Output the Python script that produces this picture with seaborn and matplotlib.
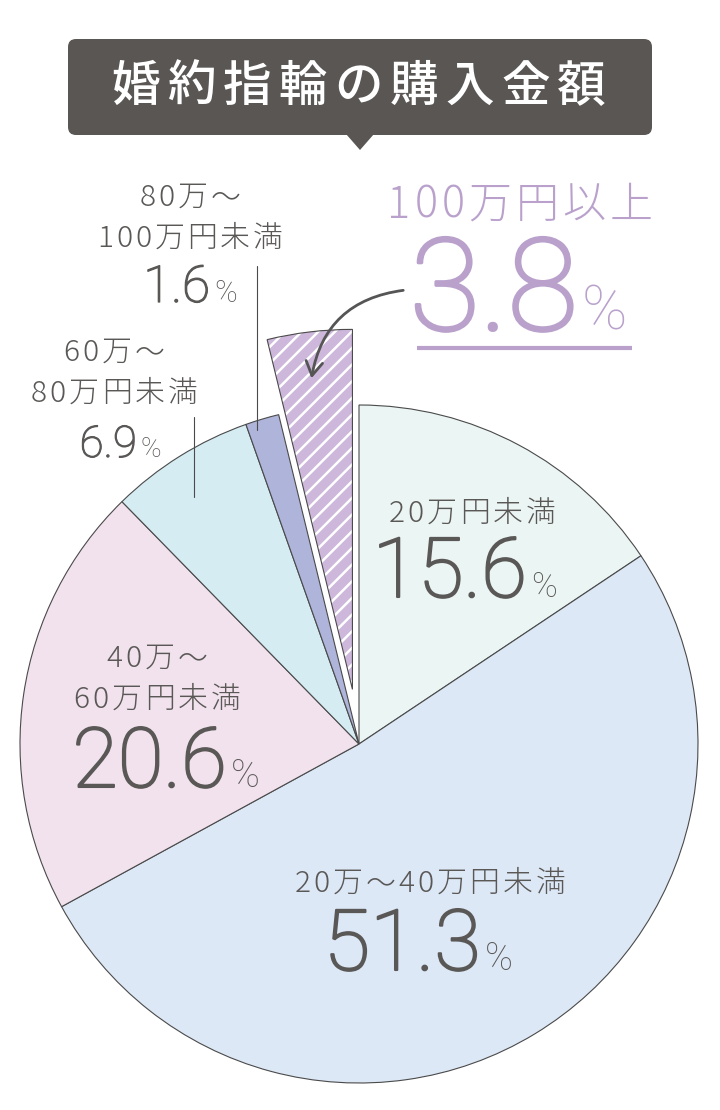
import numpy as np
import pandas as pd
import matplotlib
matplotlib.use("Agg")
import matplotlib.pyplot as plt
import matplotlib.patheffects as pe
import seaborn as sns
from matplotlib.patches import Wedge, FancyBboxPatch, Polygon, FancyArrowPatch

# data
categories = ['20万円未満', '20万〜40万円未満', '40万〜60万円未満',
              '60万〜80万円未満', '80万〜100万円未満', '100万円以上']
shares = [15.6, 51.3, 20.6, 6.9, 1.6, 3.8]
title = '婚約指輪の購入金額'

# label line breaks (as drawn)
label_lines = [['20万円未満'], ['20万〜40万円未満'], ['40万〜', '60万円未満'],
               ['60万〜', '80万円未満'], ['80万〜', '100万円未満'], ['100万円以上']]

sns.set_theme(style="white")
plt.rcParams['font.family'] = ['Noto Sans CJK JP', 'DejaVu Sans']
plt.rcParams['hatch.linewidth'] = 1.8

W, H = 720, 1110
TXT = '#5a5856'
PURPLE = '#b9a1cc'
EDGE = '#4a4a4a'
colors = ['#ebf5f4', '#dde8f6', '#f2e2ed', '#d5ecf3', '#aeb4da', '#cdb7db']

fig = plt.figure(figsize=(W / 100, H / 100), dpi=100)
ax = fig.add_axes([0, 0, 1, 1])

cx, cy, R = 359, H - 744, 339
wedges, _ = ax.pie(shares, colors=colors, startangle=90, counterclock=False,
                   radius=R, center=(cx, cy),
                   wedgeprops=dict(edgecolor=EDGE, linewidth=0.8))

# pulled-out hatched slice
hw = wedges[-1]
mid = np.deg2rad((hw.theta1 + hw.theta2) / 2)
off = 55
hw.set_center((cx + off * np.cos(mid), cy + off * np.sin(mid)))
hw.set_radius(360)
hw.set_facecolor(colors[-1])
hw.set_hatch('//')
hw.set_edgecolor('white')
hw.set_linewidth(0)
ax.add_patch(Wedge(hw.center, hw.r, hw.theta1, hw.theta2, fill=False,
                   edgecolor=EDGE, linewidth=0.8))

ax.set_xlim(0, W)
ax.set_ylim(0, H)
ax.set_aspect('equal')
ax.axis('off')

renderer = fig.canvas.get_renderer()


def tracked(x, y, s, size, color, track=3, ha='center', family=None, weight='light'):
    fam = family or ['Noto Sans CJK JP', 'DejaVu Sans']
    widths = []
    for ch in s:
        t = ax.text(0, 0, ch, fontsize=size, family=fam, weight=weight)
        widths.append(t.get_window_extent(renderer).width)
        t.remove()
    total = sum(widths) + track * (len(s) - 1)
    x0 = x - total / 2 if ha == 'center' else x
    for ch, w in zip(s, widths):
        ax.text(x0, H - y, ch, fontsize=size, family=fam, weight=weight,
                color=color, ha='left', va='baseline')
        x0 += w + track


num_font = ['Roboto', 'DejaVu Sans']


def pct(xr, y, value, size, psize, color=TXT):
    thick = [pe.withStroke(linewidth=size / 40, foreground=color)]
    ax.text(xr, H - y, value, fontsize=size, family=num_font, weight='light',
            color=color, ha='right', va='baseline', path_effects=thick)
    ax.text(xr + 4, H - y, '%', fontsize=psize, family=num_font, weight='light',
            color=color, ha='left', va='baseline')


# title box
ax.add_patch(FancyBboxPatch((68, H - 135), 584, 96,
                            boxstyle='round,pad=0,rounding_size=8',
                            facecolor='#595654', edgecolor='none'))
ax.add_patch(Polygon([(346, H - 134), (374, H - 134), (360, H - 150)],
                     closed=True, facecolor='#595654', edgecolor='none'))
for i, ch in enumerate(title):
    ax.text(135.5 + i * 55.75, H - 87, ch, fontsize=35, color='white',
            ha='center', va='center', weight='medium')

# labels: (center x, baselines of lines), value right edge, value baseline, sizes
label_pos = [(472, [522]), (430, [892]), (157, [667, 708]),
             (114, [361, 402]), (190, [206, 247]), (520, [218])]
value_pos = [(527, 597, 57, 25), (481, 970, 58, 27), (227, 787, 57, 28),
             (137, 457, 30, 20), (210, 302, 35, 22), (578, 330, 88, 44)]

for i, cat in enumerate(categories):
    color = PURPLE if i == len(categories) - 1 else TXT
    lx, lys = label_pos[i]
    size = 31 if i == len(categories) - 1 else 21.5
    for line, ly in zip(label_lines[i], lys):
        tracked(lx, ly, line, size, color, track=4 if size > 30 else 3)
    xr, yb, s1, s2 = value_pos[i]
    pct(xr, yb, f'{shares[i]:.1f}', s1 * 1.05, s2, color=color)

# underline for the highlighted value
ax.plot([417, 632], [H - 348, H - 348], color=PURPLE, lw=3, solid_capstyle='butt')

# leader lines
ax.plot([257, 257], [H - 266, H - 430], color=EDGE, lw=0.8)
ax.plot([194, 194], [H - 417, H - 497], color=EDGE, lw=0.8)

# curved arrow to the highlighted slice
ax.add_patch(FancyArrowPatch((406, H - 290), (311, H - 381),
                             connectionstyle='arc3,rad=0.38',
                             arrowstyle='->,head_length=0.5,head_width=0.3',
                             mutation_scale=20, color='#555555', lw=2))

fig.savefig('out.png', dpi=100)
plt.close(fig)
